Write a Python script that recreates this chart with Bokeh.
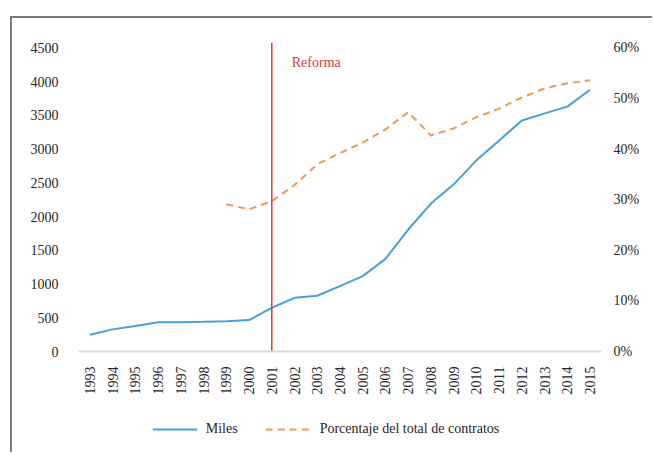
import math
from bokeh.plotting import figure
from bokeh.layouts import column
from bokeh.models import (ColumnDataSource, Range1d, LinearAxis, FixedTicker,
                          PrintfTickFormatter, Legend, LegendItem)
from bokeh.core.properties import value
from bokeh.embed import file_html
from bokeh.resources import INLINE

years = [str(y) for y in range(1993, 2016)]
miles = [249, 328, 377, 432, 432, 440, 450, 466, 648, 796, 826, 969, 1117,
         1373, 1808, 2192, 2478, 2833, 3129, 3425, 3530, 3630, 3880]
pct_years = [str(y) for y in range(1999, 2016)]
pct = [29.1, 28.1, 29.7, 32.9, 37.0, 39.2, 41.3, 43.9, 47.3, 42.7, 44.1,
       46.3, 48.0, 50.2, 52.0, 53.0, 53.6]
left_ticks = [0, 500, 1000, 1500, 2000, 2500, 3000, 3500, 4000, 4500]
right_ticks = [0, 10, 20, 30, 40, 50, 60]
reform_year = "2001"
reform_label = "Reforma"
series_names = ["Miles", "Porcentaje del total de contratos"]

FONT = "Liberation Serif"
Y_END = 4580
RATIO = 75.0  # 1% on right axis == 75 units on left axis
BLUE = "#45a0dc"
ORANGE = "#f0975a"
BORDER = "2px solid #7a7a7a"

p = figure(x_range=years, y_range=Range1d(0, Y_END), width=642, height=390,
           output_backend="svg", toolbar_location=None,
           min_border_left=66, min_border_right=53,
           min_border_top=24, min_border_bottom=57)
p.styles = {"border-top": BORDER, "border-left": BORDER,
            "margin-top": "16px", "margin-left": "10px"}
p.outline_line_color = None
p.xgrid.grid_line_color = None
p.ygrid.grid_line_color = None
p.x_range.range_padding = 0

p.extra_y_ranges = {"pct": Range1d(0, Y_END / RATIO)}

# axes
p.yaxis.ticker = FixedTicker(ticks=left_ticks)
p.yaxis.axis_line_color = None
p.yaxis.major_tick_line_color = None
p.yaxis.minor_tick_line_color = None
p.yaxis.major_label_standoff = 14
p.yaxis.major_label_text_font = FONT
p.yaxis.major_label_text_font_size = "14px"
p.yaxis.major_label_text_color = "#262626"

p.xaxis.axis_line_color = "#d9d9d9"
p.xaxis.axis_line_width = 2
p.xaxis.major_tick_line_color = None
p.xaxis.minor_tick_line_color = None
p.xaxis.major_label_orientation = math.pi / 2
p.xaxis.major_label_standoff = 9
p.xaxis.major_label_text_font = FONT
p.xaxis.major_label_text_font_size = "14px"
p.xaxis.major_label_text_color = "#262626"

ra = LinearAxis(y_range_name="pct", ticker=FixedTicker(ticks=right_ticks),
                formatter=PrintfTickFormatter(format="%d%%"))
ra.axis_line_color = None
ra.major_tick_line_color = None
ra.minor_tick_line_color = None
ra.major_label_standoff = 6
ra.major_label_text_font = FONT
ra.major_label_text_font_size = "14px"
ra.major_label_text_color = "#262626"
p.add_layout(ra, "right")

# data
src1 = ColumnDataSource(dict(x=years, y=miles))
src2 = ColumnDataSource(dict(x=pct_years, y=pct))
p.line("x", "y", source=src1, line_color=BLUE, line_width=2)
p.line("x", "y", source=src2, y_range_name="pct", line_color=ORANGE,
       line_width=2, line_dash="7 5")

# reform marker
p.segment(x0=[reform_year], y0=[0], x1=[reform_year], y1=[Y_END],
          line_color="#e03a3a", line_width=1.5)
p.text(x=[reform_year], y=[4290], text=[reform_label], x_offset=20,
       text_font=value(FONT), text_font_size="14px", text_color="#e03a3a",
       text_baseline="alphabetic", text_align="left")

# legend strip (separate figure below the chart, sharing the border);
# its series are drawn out of view so only the legend shows
lf = figure(width=614, height=46, output_backend="svg", toolbar_location=None,
            x_axis_location=None, y_axis_location=None,
            min_border_left=0, min_border_right=0,
            min_border_top=0, min_border_bottom=0,
            x_range=years, y_range=Range1d(-20000, -10000))
lf.styles = {"border-left": BORDER, "margin-left": "10px"}
lf.outline_line_color = None
lf.xgrid.grid_line_color = None
lf.ygrid.grid_line_color = None
lr1 = lf.line("x", "y", source=src1, line_color=BLUE, line_width=2)
lr2 = lf.line("x", "y", source=src2, line_color=ORANGE, line_width=2,
              line_dash="7 5")

legend = Legend(items=[LegendItem(label=series_names[0], renderers=[lr1]),
                       LegendItem(label=series_names[1], renderers=[lr2])],
                orientation="horizontal", location="center")
legend.label_text_font = FONT
legend.label_text_font_size = "14px"
legend.label_text_color = "#262626"
legend.glyph_width = 45
legend.spacing = 28
legend.label_standoff = 9
legend.border_line_color = None
legend.background_fill_alpha = 0
legend.padding = 6
legend.margin = 0
lf.add_layout(legend)

layout = column(p, lf, spacing=0)

open("out.html", "w").write(file_html(layout, INLINE))
